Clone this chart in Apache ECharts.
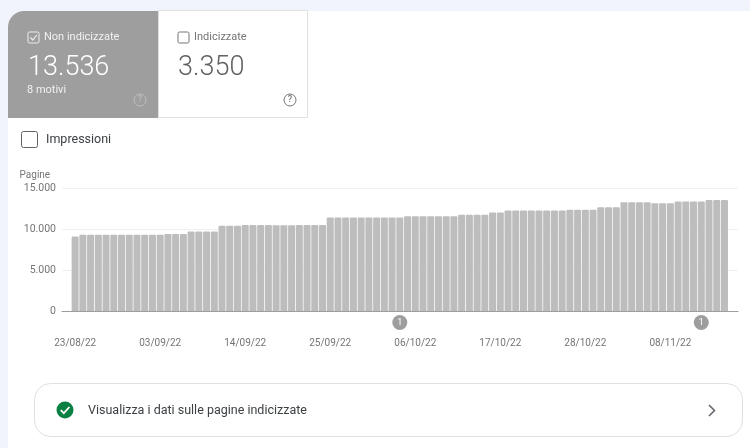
<!DOCTYPE html>
<html>
<head>
<meta charset="utf-8">
<style>
  html, body { margin: 0; padding: 0; background: #f1f4fd; }
  #chart { width: 750px; height: 448px; }
</style>
<script src="https://cdn.jsdelivr.net/npm/echarts@6/dist/echarts.min.js"></script>
</head>
<body>
<div id="chart"></div>
<script>
// daily pages, first bar is 23/08/22
const startDate = [2022, 7, 23];
const pageValues = [
  9100, 9300, 9300, 9300, 9300, 9300, 9300, 9300, 9300, 9300, 9300, 9300,
  9400, 9400, 9400, 9700, 9700, 9700, 9700, 10400, 10400, 10400,
  10500, 10500, 10500, 10500, 10450, 10450, 10450, 10500, 10500, 10500, 10500,
  11400, 11400, 11400, 11400, 11400, 11400, 11400, 11400, 11400, 11400,
  11550, 11550, 11550, 11550, 11550, 11550, 11550, 11750, 11750, 11750, 11750,
  12000, 12000, 12250, 12250, 12250, 12250, 12250, 12250, 12250, 12250,
  12350, 12350, 12350, 12350, 12650, 12650, 12650,
  13250, 13250, 13250, 13250, 13150, 13150, 13150,
  13350, 13350, 13350, 13350, 13536, 13536, 13536
];
// day offsets of the tick labels and of the two annotation badges
const labelDays = [0, 11, 22, 33, 44, 55, 66, 77];
const annotationDays = [42, 81];
const yTicks = [0, 5000, 10000, 15000];

const pad = n => String(n).padStart(2, '0');
// x axis runs in days since the first bar
const fmtDate = offset => {
  const d = new Date(startDate[0], startDate[1], startDate[2] + offset);
  return pad(d.getDate()) + '/' + pad(d.getMonth() + 1) + '/' + String(d.getFullYear()).slice(2);
};
const fmtThousands = v => String(v).replace(/\B(?=(\d{3})+$)/g, '.');

const FONT = 'Roboto';

// small helpers for the page furniture around the plot
function label(x, y, text, size, fill, weight) {
  return { type: 'text', x, y, style: { text, fill, font: (weight || 400) + ' ' + size + 'px ' + FONT, textVerticalAlign: 'middle' } };
}
function box(x, y, w, h, r, fill, stroke) {
  return { type: 'rect', shape: { x, y, width: w, height: h, r }, style: { fill, stroke: stroke || 'none', lineWidth: 1 } };
}
function polyline(points, stroke, lineWidth) {
  return { type: 'polyline', shape: { points }, style: { fill: 'none', stroke, lineWidth } };
}
function helpIcon(cx, cy, color) {
  return [
    { type: 'circle', shape: { cx, cy, r: 6 }, style: { fill: 'none', stroke: color, lineWidth: 1 } },
    { type: 'text', x: cx, y: cy, style: { text: '?', fill: color, font: '500 9px ' + FONT, textAlign: 'center', textVerticalAlign: 'middle' } }
  ];
}

const furniture = [
  box(8, 11, 742, 437, [16, 0, 0, 0], '#ffffff'),
  box(8, 11, 150, 107, [16, 0, 0, 0], '#9e9e9e'),
  box(158.5, 10.5, 149, 107, 0, '#ffffff', '#e0e0e0'),
  box(28, 32, 11, 11, 1.5, 'none', '#eeeeee'),
  polyline([[30.5, 37.5], [32.8, 40], [36.8, 35]], '#eeeeee', 1.2),
  label(44, 37.5, 'Non indicizzate', 11, '#f1f1f1'),
  label(28, 68, '13.536', 27, '#ffffff', 300),
  label(27, 90.5, '8 motivi', 11, '#f1f1f1'),
  ...helpIcon(140, 100, '#bdbdbd'),
  box(178, 32, 11, 11, 1.5, 'none', '#757575'),
  label(194, 37.5, 'Indicizzate', 11, '#757575'),
  label(178, 68, '3.350', 27, '#616161', 300),
  ...helpIcon(290, 100, '#757575'),
  box(21.5, 131.5, 16, 16, 2, 'none', '#5f6368'),
  label(46, 140, 'Impressioni', 12.5, '#3c4043'),
  box(34.5, 383.5, 708, 53, 16, '#ffffff', '#e0e0e0'),
  { type: 'circle', shape: { cx: 65, cy: 410, r: 8.5 }, style: { fill: '#0b8043' } },
  polyline([[60.8, 410.2], [63.8, 413.2], [69.4, 407]], '#ffffff', 1.8),
  label(88, 410.5, 'Visualizza i dati sulle pagine indicizzate', 12.5, '#3c4043'),
  polyline([[709, 405], [714.5, 410.5], [709, 416]], '#5f6368', 1.5)
];

const chart = echarts.init(document.getElementById('chart'), null, { renderer: 'canvas' });
chart.setOption({
  animation: false,
  backgroundColor: '#f1f4fd',
  textStyle: { fontFamily: FONT },
  graphic: { elements: furniture },
  grid: { left: 62, right: 12, top: 188, height: 123 },
  xAxis: {
    type: 'value',
    min: -1.7,
    max: 85.75,
    axisLine: { lineStyle: { color: '#9e9e9e', width: 1 } },
    axisTick: { show: false },
    splitLine: { show: false },
    axisLabel: {
      customValues: labelDays,
      formatter: v => fmtDate(v),
      hideOverlap: false,
      margin: 27,
      fontSize: 10,
      color: '#757575'
    }
  },
  yAxis: {
    type: 'value',
    min: yTicks[0],
    max: yTicks[yTicks.length - 1],
    interval: yTicks[1],
    name: 'Pagine',
    nameGap: 8,
    nameTextStyle: { align: 'right', padding: [0, 25, 0, 0], fontSize: 10, color: '#757575' },
    axisLine: { show: false },
    axisTick: { show: false },
    splitLine: { lineStyle: { color: '#f0f0f0', width: 1 } },
    axisLabel: { margin: 6, fontSize: 10.5, color: '#757575', formatter: fmtThousands }
  },
  series: [
    {
      type: 'bar',
      barWidth: 7,
      itemStyle: { color: '#bdbdbd', borderRadius: [1, 1, 0, 0] },
      z: 3,
      data: pageValues.map((v, i) => [i, v])
    },
    {
      type: 'scatter',
      clip: false,
      symbolSize: 15,
      symbolOffset: [0, 11.5],
      itemStyle: { color: '#9e9e9e', opacity: 1 },
      label: {
        show: true,
        position: 'inside',
        formatter: '1',
        fontSize: 9,
        color: '#ffffff'
      },
      data: annotationDays.map(d => [d, 0])
    }
  ]
});
window.addEventListener('resize', () => chart.resize());
</script>
</body>
</html>
